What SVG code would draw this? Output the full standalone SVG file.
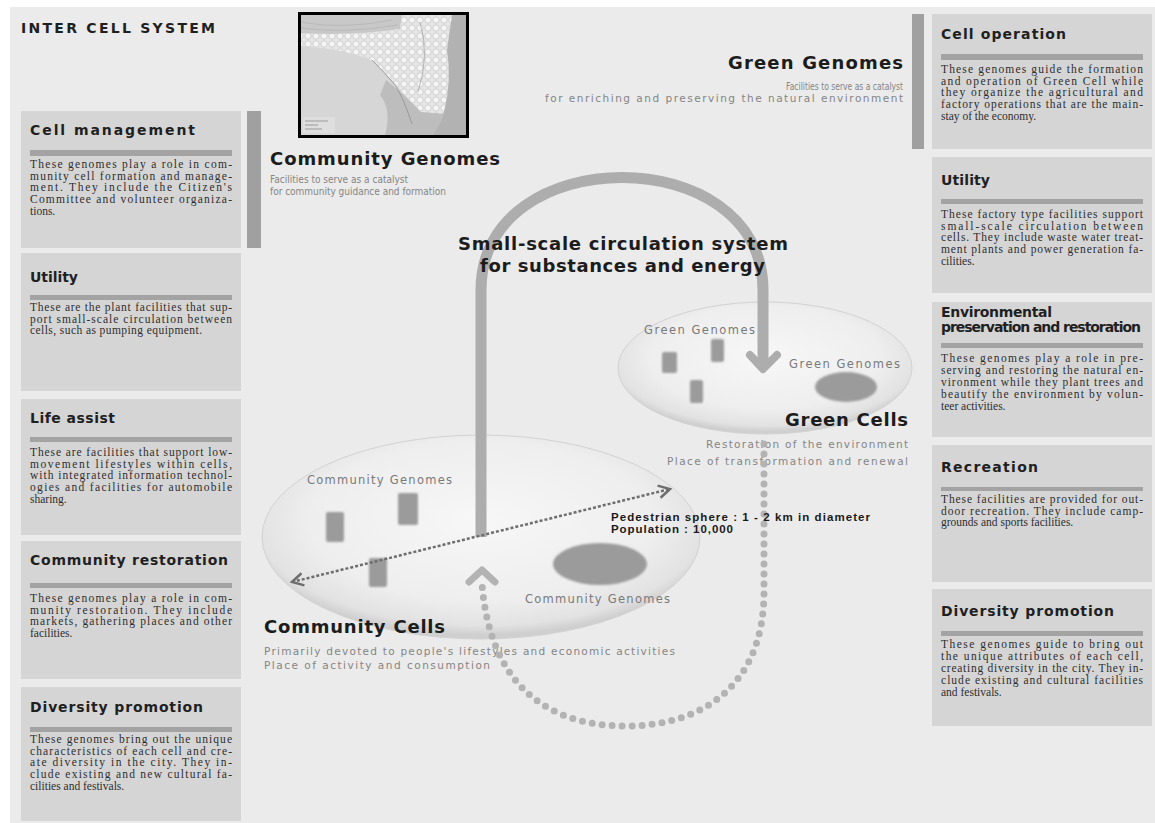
<svg xmlns="http://www.w3.org/2000/svg" width="1155" height="823" viewBox="0 0 1155 823">
<style>
  .bg{fill:#ebebeb}
  .box{fill:#d5d5d5}
  .rule{fill:#a3a3a3}
  .sidebar{fill:#a0a0a0}
  .ttl{font-family:"DejaVu Sans",Verdana,sans-serif;font-weight:bold;font-size:14px;fill:#1f1f1f}
  .body{font-family:"Liberation Serif","Times New Roman",serif;font-size:11.5px;fill:#2e2e2e}
  .head{font-family:"DejaVu Sans",Verdana,sans-serif;font-weight:bold;font-size:18px;fill:#1c1c1c}
  .sub{font-family:"DejaVu Sans",Verdana,sans-serif;font-size:10.5px;fill:#858585}
  .lbl{font-family:"DejaVu Sans",Verdana,sans-serif;font-size:11.5px;fill:#7a7a7a}
  .ped{font-family:"Liberation Sans",Arial,sans-serif;font-weight:bold;font-size:11.5px;fill:#1a1a1a}
  .blk{fill:#9b9b9b;filter:url(#soft)}
  .arch{fill:none;stroke:#adadad;stroke-width:11}
  .dots{fill:none;stroke:#b3b3b3;stroke-width:7;stroke-linecap:round;stroke-dasharray:0 10}
  .walk{fill:none;stroke:#6e6e6e;stroke-width:2.5;stroke-dasharray:3 2}
</style>
<defs>
  <filter id="soft" x="-30%" y="-30%" width="160%" height="160%">
    <feGaussianBlur stdDeviation="1.1"/>
  </filter>
  <radialGradient id="cellfill" cx="0.5" cy="0.42" r="0.56">
    <stop offset="0" stop-color="#f7f7f7"/>
    <stop offset="0.7" stop-color="#eeeeee"/>
    <stop offset="0.92" stop-color="#e2e2e2"/>
    <stop offset="1" stop-color="#cfcfcf"/>
  </radialGradient>
  <pattern id="cellgrid" width="8" height="8" patternUnits="userSpaceOnUse">
    <rect width="8" height="8" fill="#e6e6e6"/>
    <circle cx="4" cy="4" r="3.2" fill="#f4f4f4" stroke="#c2c2c2" stroke-width="0.7"/>
  </pattern>
  <clipPath id="mapclip"><rect x="301" y="15" width="165" height="120"/></clipPath>
  <marker id="chev" viewBox="0 0 12 12" refX="10" refY="6" markerWidth="6" markerHeight="6" orient="auto-start-reverse" markerUnits="strokeWidth">
    <path d="M1,1 L10,6 L1,11" fill="none" stroke="#6e6e6e" stroke-width="2"/>
  </marker>
</defs>

<!-- page -->
<rect width="1155" height="823" fill="#ffffff"/>
<rect class="bg" x="10" y="7" width="1145" height="816"/>

<text x="21" y="33" class="ttl" font-size="15" textLength="194" lengthAdjust="spacing">INTER CELL SYSTEM</text>

<!-- site map -->
<g id="site-map">
  <g clip-path="url(#mapclip)">
    <rect x="301" y="15" width="165" height="120" fill="#d6d6d6"/>
    <path d="M301,15 L402,15 L400,29 Q352,36 301,33 Z" fill="#c8c8c8"/>
    <path d="M301,22 Q340,30 392,20 M301,28 Q345,34 398,25" fill="none" stroke="#b2b2b2" stroke-width="0.7"/>
    <path d="M301,33 Q352,36 400,29 L402,15 L455,15 Q447,50 451,80 Q449,100 444,114 L421,112 Q406,96 396,85 Q383,70 372,60 Q340,48 301,46 Z" fill="url(#cellgrid)"/>
    <path d="M452,15 L466,15 L466,135 L430,135 Q440,122 444,112 Q452,80 447,50 Z" fill="#b2b2b2"/>
    <path d="M386,80 Q405,95 421,112 L444,114 Q440,126 433,135 L385,135 Q392,110 380,95 Z" fill="#bdbdbd"/>
    <path d="M372,60 Q384,72 396,86 Q404,100 412,124" fill="none" stroke="#8f8f8f" stroke-width="0.8"/>
    <path d="M420,22 Q430,55 418,92" fill="none" stroke="#a0a0a0" stroke-width="0.7"/>
    <rect x="303" y="117" width="32" height="16" fill="#dedede"/>
    <path d="M305,121 H328 M305,125 H318 M305,129 H322" stroke="#9a9a9a" stroke-width="1"/>
  </g>
  <rect x="299.5" y="13.5" width="168" height="123" fill="none" stroke="#000" stroke-width="3"/>
</g>

<!-- left column -->
<g id="cell-management">
  <rect class="box" x="21" y="111" width="220" height="137"/>
  <rect class="sidebar" x="247" y="111" width="14" height="137"/>
  <text class="ttl" x="30" y="135" textLength="165" lengthAdjust="spacing">Cell management</text>
  <rect class="rule" x="30" y="150" width="202" height="6"/>
  <text class="body" x="30" y="168" textLength="202" lengthAdjust="spacing">These genomes play a role in com-</text>
  <text class="body" x="30" y="179.7" textLength="202" lengthAdjust="spacing">munity cell formation and manage-</text>
  <text class="body" x="30" y="191.4" textLength="202" lengthAdjust="spacing">ment. They include the Citizen's</text>
  <text class="body" x="30" y="203.1" textLength="202" lengthAdjust="spacing">Committee and volunteer organiza-</text>
  <text class="body" x="30" y="214.8">tions.</text>
</g>

<g id="utility-left">
  <rect class="box" x="21" y="253" width="220" height="138"/>
  <text class="ttl" x="30" y="282" textLength="48" lengthAdjust="spacing">Utility</text>
  <rect class="rule" x="30" y="295" width="202" height="5"/>
  <text class="body" x="30" y="311" textLength="202" lengthAdjust="spacing">These are the plant facilities that sup-</text>
  <text class="body" x="30" y="322.7" textLength="202" lengthAdjust="spacing">port small-scale circulation between</text>
  <text class="body" x="30" y="334.4" textLength="172" lengthAdjust="spacing">cells, such as pumping equipment.</text>
</g>

<g id="life-assist">
  <rect class="box" x="21" y="399" width="220" height="136"/>
  <text class="ttl" x="30" y="423" textLength="85" lengthAdjust="spacing">Life assist</text>
  <rect class="rule" x="30" y="437" width="202" height="5"/>
  <text class="body" x="30" y="456" textLength="202" lengthAdjust="spacing">These are facilities that support low-</text>
  <text class="body" x="30" y="467.7" textLength="202" lengthAdjust="spacing">movement lifestyles within cells,</text>
  <text class="body" x="30" y="479.4" textLength="202" lengthAdjust="spacing">with integrated information technol-</text>
  <text class="body" x="30" y="491.1" textLength="202" lengthAdjust="spacing">ogies and facilities for automobile</text>
  <text class="body" x="30" y="502.8">sharing.</text>
</g>

<g id="community-restoration">
  <rect class="box" x="21" y="541" width="220" height="138"/>
  <text class="ttl" x="30" y="565" textLength="198" lengthAdjust="spacing">Community restoration</text>
  <rect class="rule" x="30" y="583" width="202" height="5"/>
  <text class="body" x="30" y="602" textLength="202" lengthAdjust="spacing">These genomes play a role in com-</text>
  <text class="body" x="30" y="613.7" textLength="202" lengthAdjust="spacing">munity restoration. They include</text>
  <text class="body" x="30" y="625.4" textLength="202" lengthAdjust="spacing">markets, gathering places and other</text>
  <text class="body" x="30" y="637.1">facilities.</text>
</g>

<g id="diversity-promotion-left">
  <rect class="box" x="21" y="687" width="220" height="134"/>
  <text class="ttl" x="30" y="712" textLength="173" lengthAdjust="spacing">Diversity promotion</text>
  <rect class="rule" x="30" y="727" width="202" height="5"/>
  <text class="body" x="30" y="743" textLength="202" lengthAdjust="spacing">These genomes bring out the unique</text>
  <text class="body" x="30" y="754.7" textLength="202" lengthAdjust="spacing">characteristics of each cell and cre-</text>
  <text class="body" x="30" y="766.4" textLength="202" lengthAdjust="spacing">ate diversity in the city. They in-</text>
  <text class="body" x="30" y="778.1" textLength="202" lengthAdjust="spacing">clude existing and new cultural fa-</text>
  <text class="body" x="30" y="789.8">cilities and festivals.</text>
</g>

<!-- right column -->
<g id="cell-operation">
  <rect class="sidebar" x="912" y="14" width="12" height="135"/>
  <rect class="box" x="932" y="14" width="220" height="135"/>
  <text class="ttl" x="941" y="39" textLength="125" lengthAdjust="spacing">Cell operation</text>
  <rect class="rule" x="941" y="54" width="202" height="6"/>
  <text class="body" x="941" y="73" textLength="202" lengthAdjust="spacing">These genomes guide the formation</text>
  <text class="body" x="941" y="84.7" textLength="202" lengthAdjust="spacing">and operation of Green Cell while</text>
  <text class="body" x="941" y="96.4" textLength="202" lengthAdjust="spacing">they organize the agricultural and</text>
  <text class="body" x="941" y="108.1" textLength="202" lengthAdjust="spacing">factory operations that are the main-</text>
  <text class="body" x="941" y="119.8">stay of the economy.</text>
</g>

<g id="utility-right">
  <rect class="box" x="932" y="157" width="220" height="136"/>
  <text class="ttl" x="941" y="185" textLength="49" lengthAdjust="spacing">Utility</text>
  <rect class="rule" x="941" y="199" width="202" height="5"/>
  <text class="body" x="941" y="218" textLength="202" lengthAdjust="spacing">These factory type facilities support</text>
  <text class="body" x="941" y="229.7" textLength="202" lengthAdjust="spacing">small-scale circulation between</text>
  <text class="body" x="941" y="241.4" textLength="202" lengthAdjust="spacing">cells. They include waste water treat-</text>
  <text class="body" x="941" y="253.1" textLength="202" lengthAdjust="spacing">ment plants and power generation fa-</text>
  <text class="body" x="941" y="264.8">cilities.</text>
</g>

<g id="environmental-preservation">
  <rect class="box" x="932" y="302" width="220" height="135"/>
  <text class="ttl" x="941" y="317" font-size="12" textLength="111" lengthAdjust="spacing">Environmental</text>
  <text class="ttl" x="941" y="332" font-size="11" textLength="200" lengthAdjust="spacing">preservation and restoration</text>
  <rect class="rule" x="941" y="343" width="202" height="5"/>
  <text class="body" x="941" y="362" textLength="202" lengthAdjust="spacing">These genomes play a role in pre-</text>
  <text class="body" x="941" y="374" textLength="202" lengthAdjust="spacing">serving and restoring the natural en-</text>
  <text class="body" x="941" y="386" textLength="202" lengthAdjust="spacing">vironment while they plant trees and</text>
  <text class="body" x="941" y="398" textLength="202" lengthAdjust="spacing">beautify the environment by volun-</text>
  <text class="body" x="941" y="410">teer activities.</text>
</g>

<g id="recreation">
  <rect class="box" x="932" y="445" width="220" height="137"/>
  <text class="ttl" x="941" y="472" textLength="97" lengthAdjust="spacing">Recreation</text>
  <rect class="rule" x="941" y="487" width="202" height="4"/>
  <text class="body" x="941" y="503" textLength="202" lengthAdjust="spacing">These facilities are provided for out-</text>
  <text class="body" x="941" y="514.7" textLength="202" lengthAdjust="spacing">door recreation. They include camp-</text>
  <text class="body" x="941" y="526.4">grounds and sports facilities.</text>
</g>

<g id="diversity-promotion-right">
  <rect class="box" x="932" y="589" width="220" height="137"/>
  <text class="ttl" x="941" y="616" textLength="173" lengthAdjust="spacing">Diversity promotion</text>
  <rect class="rule" x="941" y="631" width="202" height="5"/>
  <text class="body" x="941" y="648" textLength="202" lengthAdjust="spacing">These genomes guide to bring out</text>
  <text class="body" x="941" y="660" textLength="202" lengthAdjust="spacing">the unique attributes of each cell,</text>
  <text class="body" x="941" y="672" textLength="202" lengthAdjust="spacing">creating diversity in the city. They in-</text>
  <text class="body" x="941" y="684" textLength="202" lengthAdjust="spacing">clude existing and cultural facilities</text>
  <text class="body" x="941" y="696">and festivals.</text>
</g>

<!-- genome headings -->
<g id="community-genomes">
  <text class="head" x="270" y="165" textLength="230" lengthAdjust="spacing">Community Genomes</text>
  <text class="sub" x="270" y="183" textLength="138" lengthAdjust="spacingAndGlyphs">Facilities to serve as a catalyst</text>
  <text class="sub" x="270" y="195" textLength="176" lengthAdjust="spacingAndGlyphs">for community guidance and formation</text>
</g>

<g id="green-genomes">
  <text class="head" x="728" y="69" textLength="175" lengthAdjust="spacing">Green Genomes</text>
  <text class="sub" x="786" y="90" textLength="117" lengthAdjust="spacingAndGlyphs">Facilities to serve as a catalyst</text>
  <text class="sub" x="545" y="102" textLength="358" lengthAdjust="spacing">for enriching and preserving the natural environment</text>
</g>

<!-- green cell -->
<g id="green-cells">
  <ellipse cx="765" cy="368" rx="147" ry="66" fill="url(#cellfill)" stroke="#d2d2d2" stroke-width="1"/>
  <rect class="blk" x="662" y="352" width="15" height="21" rx="2"/>
  <rect class="blk" x="711" y="339" width="13" height="23" rx="2"/>
  <rect class="blk" x="690" y="380" width="13" height="23" rx="2"/>
  <ellipse class="blk" cx="846" cy="387" rx="31" ry="15"/>
  <text class="lbl" x="644" y="334" textLength="111" lengthAdjust="spacing">Green Genomes</text>
  <text class="lbl" x="789" y="368" font-size="10.5" textLength="111" lengthAdjust="spacing">Green Genomes</text>
  <text class="head" x="785" y="426" textLength="123" lengthAdjust="spacing">Green Cells</text>
  <text class="sub" x="706" y="448" textLength="202" lengthAdjust="spacing">Restoration of the environment</text>
  <text class="sub" x="667" y="465" textLength="241" lengthAdjust="spacing">Place of transformation and renewal</text>
</g>

<!-- community cell -->
<g id="community-cells">
  <ellipse cx="481" cy="537" rx="219" ry="102" fill="url(#cellfill)" stroke="#d2d2d2" stroke-width="1"/>
  <rect class="blk" x="326" y="512" width="18" height="30" rx="2"/>
  <rect class="blk" x="398" y="493" width="20" height="32" rx="2"/>
  <rect class="blk" x="369" y="558" width="18" height="29" rx="2"/>
  <ellipse class="blk" cx="600" cy="564" rx="47" ry="21"/>
  <text class="lbl" x="307" y="484" textLength="145" lengthAdjust="spacing">Community Genomes</text>
  <text class="lbl" x="525" y="603" textLength="145" lengthAdjust="spacing">Community Genomes</text>
  <text class="head" x="264" y="633" textLength="181" lengthAdjust="spacing">Community Cells</text>
  <text class="sub" x="264" y="655" textLength="411" lengthAdjust="spacing">Primarily devoted to people's lifestyles and economic activities</text>
  <text class="sub" x="264" y="669" textLength="226" lengthAdjust="spacing">Place of activity and consumption</text>
</g>

<!-- connectors -->
<g id="connectors">
  <path class="arch" d="M481,537 L481,290 C481,140 763,140 763,290 L763,366"/>
  <polyline points="750,355 763,369 777,355" fill="none" stroke="#adadad" stroke-width="8" stroke-linejoin="round" stroke-linecap="round"/>
  <path class="dots" d="M764,444 L764,592 C764,682 706,726 626,726 C546,726 490,684 482,584"/>
  <polyline points="469,582 482,570 495,582" fill="none" stroke="#b3b3b3" stroke-width="7" stroke-linejoin="round" stroke-linecap="round"/>
  <line class="walk" x1="292" y1="582" x2="670" y2="489" marker-start="url(#chev)" marker-end="url(#chev)"/>
</g>

<g id="circulation-title">
  <text class="head" x="458" y="250" font-size="16" textLength="330" lengthAdjust="spacing">Small-scale circulation system</text>
  <text class="head" x="480" y="272" font-size="16" textLength="285" lengthAdjust="spacing">for substances and energy</text>
</g>

<g id="pedestrian-sphere">
  <text class="ped" x="611" y="521" textLength="259" lengthAdjust="spacing">Pedestrian sphere : 1 - 2 km in diameter</text>
  <text class="ped" x="611" y="533" textLength="122" lengthAdjust="spacing">Population : 10,000</text>
</g>
</svg>
